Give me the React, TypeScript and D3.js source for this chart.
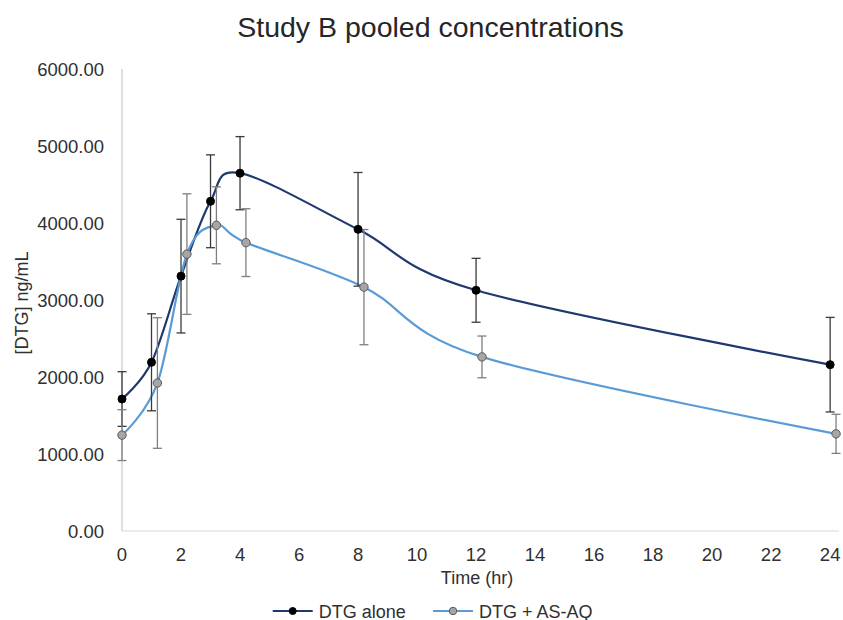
import React from "react";
import * as d3 from "d3";

const W = 843;
const H = 620;

const xTicks = [0, 2, 4, 6, 8, 10, 12, 14, 16, 18, 20, 22, 24];
const yTicks = [0, 1000, 2000, 3000, 4000, 5000, 6000];

const timeAlone = [0, 1, 2, 3, 4, 8, 12, 24];
const meanAlone = [1714, 2191, 3310, 4282, 4647, 3918, 3126, 2160];
const sdAlone = [355, 630, 738, 603, 475, 738, 415, 614];

const timeCombo = [0, 1.2, 2.2, 3.2, 4.2, 8.2, 12.2, 24.2];
const meanCombo = [1245, 1922, 3596, 3970, 3745, 3167, 2261, 1262];
const sdCombo = [330, 848, 783, 500, 440, 748, 271, 254];

const seriesNames = ["DTG alone", "DTG + AS-AQ"];

const FONT = "'Liberation Sans', Arial, sans-serif";

export default function App() {
  const x = d3.scaleLinear().domain([0, 24.3]).range([122, 839]);
  const y = d3.scaleLinear().domain([0, 6000]).range([531, 69]);

  const series = [
    { name: seriesNames[0], t: timeAlone, m: meanAlone, sd: sdAlone, line: "#1f3870", fill: "#000000", stroke: "#000000", err: "#3a3a3a", r: 4 },
    { name: seriesNames[1], t: timeCombo, m: meanCombo, sd: sdCombo, line: "#5b9bd5", fill: "#a6a6a6", stroke: "#595959", err: "#7f7f7f", r: 4.2 },
  ];

  const lineGen = d3
    .line<[number, number]>()
    .x((d) => x(d[0]))
    .y((d) => y(d[1]))
    .curve(d3.curveCardinal.tension(0));

  const cap = 4.5;

  return (
    <svg width={W} height={H} style={{ position: "absolute", left: 0, top: 0, background: "#fff" }} fontFamily={FONT}>
      <rect x={0} y={0} width={W} height={H} fill="#fff" />
      <text x={430.5} y={37} textAnchor="middle" fontSize={28.5} fill="#262626">
        Study B pooled concentrations
      </text>

      {/* axes */}
      <line x1={x(0)} x2={x(0)} y1={y(6000)} y2={y(0)} stroke="#c8c8c8" strokeWidth={1.2} />
      <line x1={x(0)} x2={x(24.3)} y1={y(0)} y2={y(0)} stroke="#d9d9d9" strokeWidth={1.2} />

      {yTicks.map((v) => (
        <text key={"y" + v} x={104} y={y(v) + 6.6} textAnchor="end" fontSize={18.5} fill="#303030">
          {v.toFixed(2)}
        </text>
      ))}
      {xTicks.map((v) => (
        <text key={"x" + v} x={x(v)} y={560.5} textAnchor="middle" fontSize={18.5} fill="#303030">
          {v}
        </text>
      ))}

      <text x={477} y={584} textAnchor="middle" fontSize={18} fill="#303030">
        Time (hr)
      </text>
      <text transform={`translate(28,303) rotate(-90)`} textAnchor="middle" fontSize={18} fill="#303030">
        [DTG] ng/mL
      </text>

      {series.map((s, si) => {
        const pts: [number, number][] = s.t.map((t, i) => [t, s.m[i]]);
        return (
          <g key={"s" + si}>
            <path d={lineGen(pts) || ""} fill="none" stroke={s.line} strokeWidth={2.2} />
          </g>
        );
      })}
      {series.map((s, si) => (
        <g key={"e" + si}>
          {s.t.map((t, i) => {
            const cx = x(t);
            const yt = y(s.m[i] + s.sd[i]);
            const yb = y(s.m[i] - s.sd[i]);
            return (
              <g key={i} stroke={s.err} strokeWidth={1.3}>
                <line x1={cx} x2={cx} y1={yt} y2={yb} />
                <line x1={cx - cap} x2={cx + cap} y1={yt} y2={yt} />
                <line x1={cx - cap} x2={cx + cap} y1={yb} y2={yb} />
              </g>
            );
          })}
        </g>
      ))}
      {series.map((s, si) => (
        <g key={"m" + si}>
          {s.t.map((t, i) => (
            <circle key={i} cx={x(t)} cy={y(s.m[i])} r={s.r} fill={s.fill} stroke={s.stroke} strokeWidth={1} />
          ))}
        </g>
      ))}

      {/* legend */}
      {series.map((s, si) => {
        const lx = si === 0 ? 272.7 : 433;
        const ly = 611;
        return (
          <g key={"l" + si}>
            <line x1={lx} x2={lx + 40} y1={ly} y2={ly} stroke={s.line} strokeWidth={2.2} />
            <circle cx={lx + 20} cy={ly} r={s.r - 0.5} fill={s.fill} stroke={s.stroke} strokeWidth={1} />
            <text x={lx + 46} y={ly + 6.5} fontSize={18} fill="#303030">
              {s.name}
            </text>
          </g>
        );
      })}
    </svg>
  );
}
